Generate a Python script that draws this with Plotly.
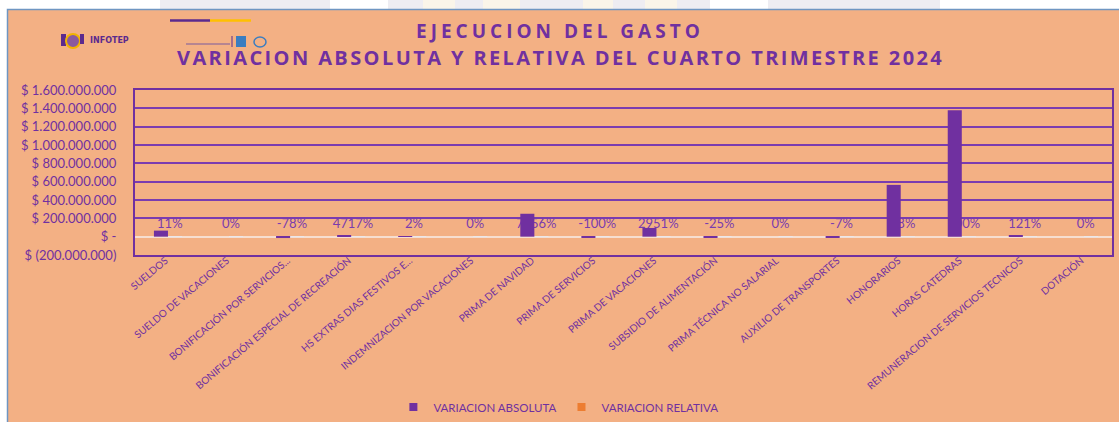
import plotly.graph_objects as go

# ---------------- data ----------------
categories = [
    "SUELDOS",
    "SUELDO DE VACACIONES",
    "BONIFICACIÓN POR SERVICIOS...",
    "BONIFICACIÓN ESPECIAL DE RECREACIÓN",
    "HS EXTRAS DIAS FESTIVOS E...",
    "INDEMNIZACION POR VACACIONES",
    "PRIMA DE NAVIDAD",
    "PRIMA DE SERVICIOS",
    "PRIMA DE VACACIONES",
    "SUBSIDIO DE ALIMENTACIÓN",
    "PRIMA TÉCNICA NO SALARIAL",
    "AUXILIO DE TRANSPORTES",
    "HONORARIOS",
    "HORAS CATEDRAS",
    "REMUNERACION DE SERVICIOS TECNICOS",
    "DOTACIÓN",
]
variacion_absoluta = [66e6, 0, -15e6, 10e6, 2e6, 0, 250e6, -6e6, 95e6, -5e6,
                      0, -4e6, 565e6, 1380e6, 15e6, 0]
variacion_relativa = [0.11, 0, -0.78, 47.17, 0.02, 0, 74.56, -1.00, 29.51, -0.25,
                      0, -0.07, 0.38, 1.00, 1.21, 0]
ytick_values = [-200e6, 0, 200e6, 400e6, 600e6, 800e6, 1000e6, 1200e6, 1400e6, 1600e6]
title_1 = "EJECUCION DEL GASTO"
title_2 = "VARIACION ABSOLUTA Y RELATIVA DEL CUARTO TRIMESTRE 2024"


def fmt_money(v):
    if v == 0:
        return "$ -"
    s = f"{abs(int(v)):,}".replace(",", ".")
    return f"$ ({s})" if v < 0 else f"$ {s}"


def fmt_pct(v):
    r = int(round(v * 100))
    return f"{r}%"


ytick_text = [fmt_money(v) for v in ytick_values]
pct_labels = [fmt_pct(v) for v in variacion_relativa]
xpos = list(range(len(categories)))

# ---------------- layout geometry ----------------
W, H = 1119, 422
L, R, T, B = 135, 7, 90, 167
PW, PH = W - L - R, H - T - B
yrange = [ytick_values[0], ytick_values[-1]]
# vertical placement of the % labels: 12 px above the zero line
LABEL_Y = 12 / PH * (yrange[1] - yrange[0])


def px(x):
    return (x - L) / PW


def py(y):
    return (H - B - y) / PH


PURPLE = "#7030A0"
ORANGE = "#ED7D31"
BG = "#F3B084"
FONT = "Lato, Open Sans, sans-serif"

fig = go.Figure()

# relative series (tiny values on the same scale, practically invisible)
fig.add_trace(go.Bar(
    x=xpos, y=variacion_relativa, name="VARIACION RELATIVA",
    marker_color=ORANGE, offset=0.04, width=0.23, showlegend=False,
    hoverinfo="skip",
))
# percentage data labels
fig.add_trace(go.Scatter(
    x=[i + 0.07 for i in xpos], y=[LABEL_Y] * len(xpos), mode="text",
    text=pct_labels, textposition="middle center",
    textfont=dict(family=FONT, size=13, color="#7A3CAE"),
    showlegend=False, hoverinfo="skip", cliponaxis=False,
))
# absolute series on an overlaying axis so it is drawn above the labels
fig.add_trace(go.Bar(
    x=xpos, y=variacion_absoluta, name="VARIACION ABSOLUTA",
    marker_color=PURPLE, marker_line_width=0, offset=-0.19, width=0.23,
    yaxis="y2", showlegend=False,
))
# legend entries
fig.add_trace(go.Scatter(
    x=[None], y=[None], mode="markers", name="VARIACION ABSOLUTA",
    marker=dict(symbol="square", size=8, color=PURPLE),
))
fig.add_trace(go.Scatter(
    x=[None], y=[None], mode="markers", name="VARIACION RELATIVA",
    marker=dict(symbol="square", size=8, color=ORANGE),
))

shapes = []
# page strip behind (top)
strip = [(160, 330, "#EEEDF2"), (388, 423, "#EEEDF2"), (423, 455, "#FAF5E9"),
         (455, 483, "#EEEDF2"), (483, 520, "#FAF5E9"), (520, 583, "#EEEDF2"),
         (583, 613, "#FAF5E9"), (613, 645, "#EEEDF2"), (645, 677, "#FAF5E9"),
         (677, 710, "#EEEDF2"), (768, 940, "#EEEDF2")]
for x0, x1, c in strip:
    shapes.append(dict(type="rect", xref="paper", yref="paper", x0=px(x0), x1=px(x1),
                       y0=py(9.5), y1=py(0), fillcolor=c, line_width=0, layer="below"))
# orange card
shapes.append(dict(type="rect", xref="paper", yref="paper", x0=px(7.5), x1=px(1125),
                   y0=py(430), y1=py(9.5), fillcolor=BG,
                   line=dict(color="#6F96C2", width=1.5), layer="below"))
# decorative lines at top
shapes.append(dict(type="line", xref="paper", yref="paper", x0=px(170), x1=px(210),
                   y0=py(20.5), y1=py(20.5), line=dict(color="#5B2A8E", width=2.5)))
shapes.append(dict(type="line", xref="paper", yref="paper", x0=px(210), x1=px(251),
                   y0=py(20.5), y1=py(20.5), line=dict(color="#FFC000", width=2.5)))
# logo elements
shapes.append(dict(type="rect", xref="paper", yref="paper", x0=px(61), x1=px(66),
                   y0=py(46), y1=py(34), fillcolor="#5B2A8E", line_width=0))
shapes.append(dict(type="circle", xref="paper", yref="paper", x0=px(66), x1=px(80),
                   y0=py(48), y1=py(34), fillcolor="#8B5A9E",
                   line=dict(color="#F2B400", width=2)))
shapes.append(dict(type="rect", xref="paper", yref="paper", x0=px(80), x1=px(84),
                   y0=py(44), y1=py(34), fillcolor="#5B2A8E", line_width=0))
shapes.append(dict(type="rect", xref="paper", yref="paper", x0=px(236), x1=px(246),
                   y0=py(47), y1=py(36), fillcolor="#3A7DC0", line_width=0))
shapes.append(dict(type="circle", xref="paper", yref="paper", x0=px(254), x1=px(266),
                   y0=py(47), y1=py(37), line=dict(color="#3A7DC0", width=1.5)))
shapes.append(dict(type="line", xref="paper", yref="paper", x0=px(186), x1=px(230),
                   y0=py(44), y1=py(44), line=dict(color="#7A5A9E", width=1.2)))
shapes.append(dict(type="line", xref="paper", yref="paper", x0=px(232), x1=px(232),
                   y0=py(47), y1=py(36), line=dict(color="#5B2A8E", width=1)))

annotations = [
    dict(text=f'<span style="letter-spacing:4px">{title_1}</span>',
         xref="paper", yref="paper", x=px(560), y=py(31), showarrow=False,
         xanchor="center", yanchor="middle",
         font=dict(family="Open Sans", size=19, color=PURPLE, weight="bold")),
    dict(text=f'<span style="letter-spacing:2.4px">{title_2}</span>',
         xref="paper", yref="paper", x=px(560), y=py(57), showarrow=False,
         xanchor="center", yanchor="middle",
         font=dict(family="Open Sans", size=20, color=PURPLE, weight="bold")),
    dict(text="INFOTEP", xref="paper", yref="paper", x=px(88), y=py(40),
         showarrow=False, xanchor="left", yanchor="middle",
         font=dict(family="DejaVu Sans", size=8, color="#5B2A8E", weight="bold")),
]

fig.update_layout(
    width=W, height=H,
    margin=dict(l=L, r=R, t=T, b=B, pad=0, autoexpand=False),
    paper_bgcolor="white",
    plot_bgcolor="rgba(0,0,0,0)",
    font=dict(family=FONT, color=PURPLE),
    barmode="overlay",
    showlegend=True,
    legend=dict(orientation="h", xref="container", yref="container",
                x=0.499, y=1 - 407 / H, xanchor="center", yanchor="middle",
                font=dict(family=FONT, size=11.5, color=PURPLE),
                bgcolor="rgba(0,0,0,0)", itemwidth=30),
    xaxis=dict(
        range=[-0.5, len(categories) - 0.5],
        tickmode="array", tickvals=xpos, ticktext=categories,
        tickangle=-40, tickfont=dict(family=FONT, size=10, color=PURPLE),
        showgrid=False, zeroline=False, automargin=False,
        showline=True, linecolor=PURPLE, linewidth=2, mirror=True,
        ticks="", ticklabelstandoff=-6,
    ),
    yaxis=dict(
        range=yrange, tickmode="array", tickvals=ytick_values, ticktext=ytick_text,
        tickfont=dict(family=FONT, size=13, color=PURPLE),
        showgrid=True, gridcolor="#7A3CB0", gridwidth=1.5,
        zeroline=True, zerolinecolor="#F6DED0", zerolinewidth=1.5,
        showline=True, linecolor=PURPLE, linewidth=2, mirror=True,
        ticks="", ticklabelstandoff=14, automargin=False,
    ),
    yaxis2=dict(
        range=yrange, overlaying="y", side="right", showgrid=False,
        zeroline=False, showticklabels=False, showline=False,
    ),
    shapes=shapes,
    annotations=annotations,
)

fig.write_html("out.html", config={"displayModeBar": False},
               post_script="document.body.style.margin='0';")
